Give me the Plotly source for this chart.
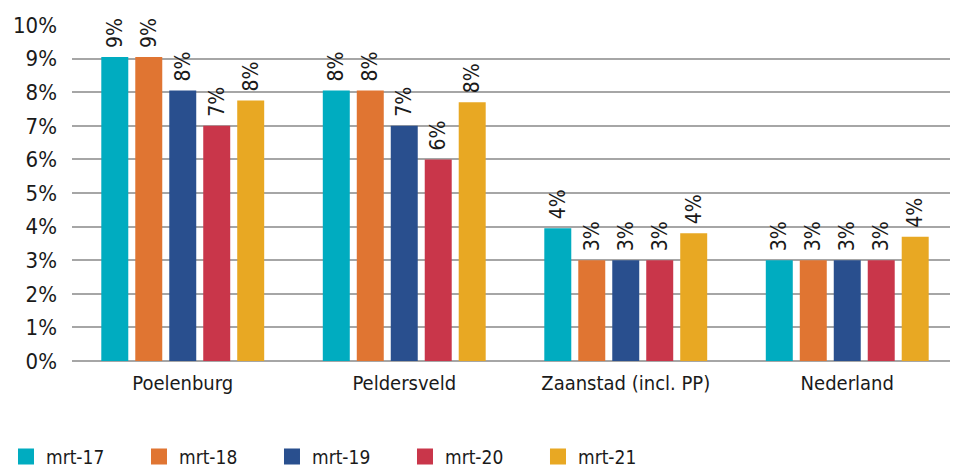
import plotly.graph_objects as go

categories = ["Poelenburg", "Peldersveld", "Zaanstad (incl. PP)", "Nederland"]
series_names = ["mrt-17", "mrt-18", "mrt-19", "mrt-20", "mrt-21"]
mrt17 = [9.05, 8.05, 3.95, 3.0]
mrt18 = [9.05, 8.05, 3.0, 3.0]
mrt19 = [8.05, 7.0, 3.0, 3.0]
mrt20 = [7.0, 6.0, 3.0, 3.0]
mrt21 = [7.75, 7.7, 3.8, 3.7]
tick_vals = list(range(0, 11))
tick_text = [f"{v}%" for v in tick_vals]

colors = ["#00ACC0", "#E07532", "#294F8E", "#C9364A", "#E8A823"]
FONT = "DejaVu Sans Condensed, Roboto, sans-serif"

fig = go.Figure()
for name, vals, col in zip(series_names, [mrt17, mrt18, mrt19, mrt20, mrt21], colors):
    fig.add_trace(go.Bar(
        x=categories, y=vals, name=name, showlegend=False,
        marker=dict(color=col, line_width=0),
        text=[f"\u00a0{round(v):d}%" for v in vals],
        textposition="outside", textangle=-90,
        textfont=dict(size=21, color="#1a1a1a", family=FONT),
        constraintext="none", cliponaxis=False,
    ))
    # larger legend squares
    fig.add_trace(go.Scatter(
        x=[None], y=[None], mode="markers", name=name,
        marker=dict(symbol="square", size=22, color=col),
    ))

# page body adds an 8px margin, so the figure is a bit smaller than the window
fig.update_layout(
    width=950, height=459,
    margin=dict(l=64, r=0, t=17, b=106, autoexpand=False),
    paper_bgcolor="white", plot_bgcolor="white",
    barmode="group", bargap=0.233, bargroupgap=0.206,
    font=dict(family=FONT, color="#1a1a1a"),
    showlegend=True,
    legend=dict(
        orientation="h", x=-0.0745, xanchor="left", y=-0.228, yanchor="top",
        xref="paper", entrywidth=88, entrywidthmode="pixels",
        font=dict(size=19, family=FONT), itemsizing="trace",
    ),
    xaxis=dict(
        tickfont=dict(size=20, family=FONT), showgrid=False, showline=False,
        ticks="", automargin=False, ticklabelstandoff=8,
    ),
    yaxis=dict(
        range=[0, 10], tickvals=tick_vals, ticktext=tick_text,
        tickfont=dict(size=22, family=FONT), showgrid=True,
        gridcolor="#a6a6a6", gridwidth=1.5, zeroline=True, automargin=False,
        zerolinecolor="#a6a6a6", zerolinewidth=1.5, ticks="", ticklabelstandoff=14,
    ),
)

fig.write_html("out.html")
